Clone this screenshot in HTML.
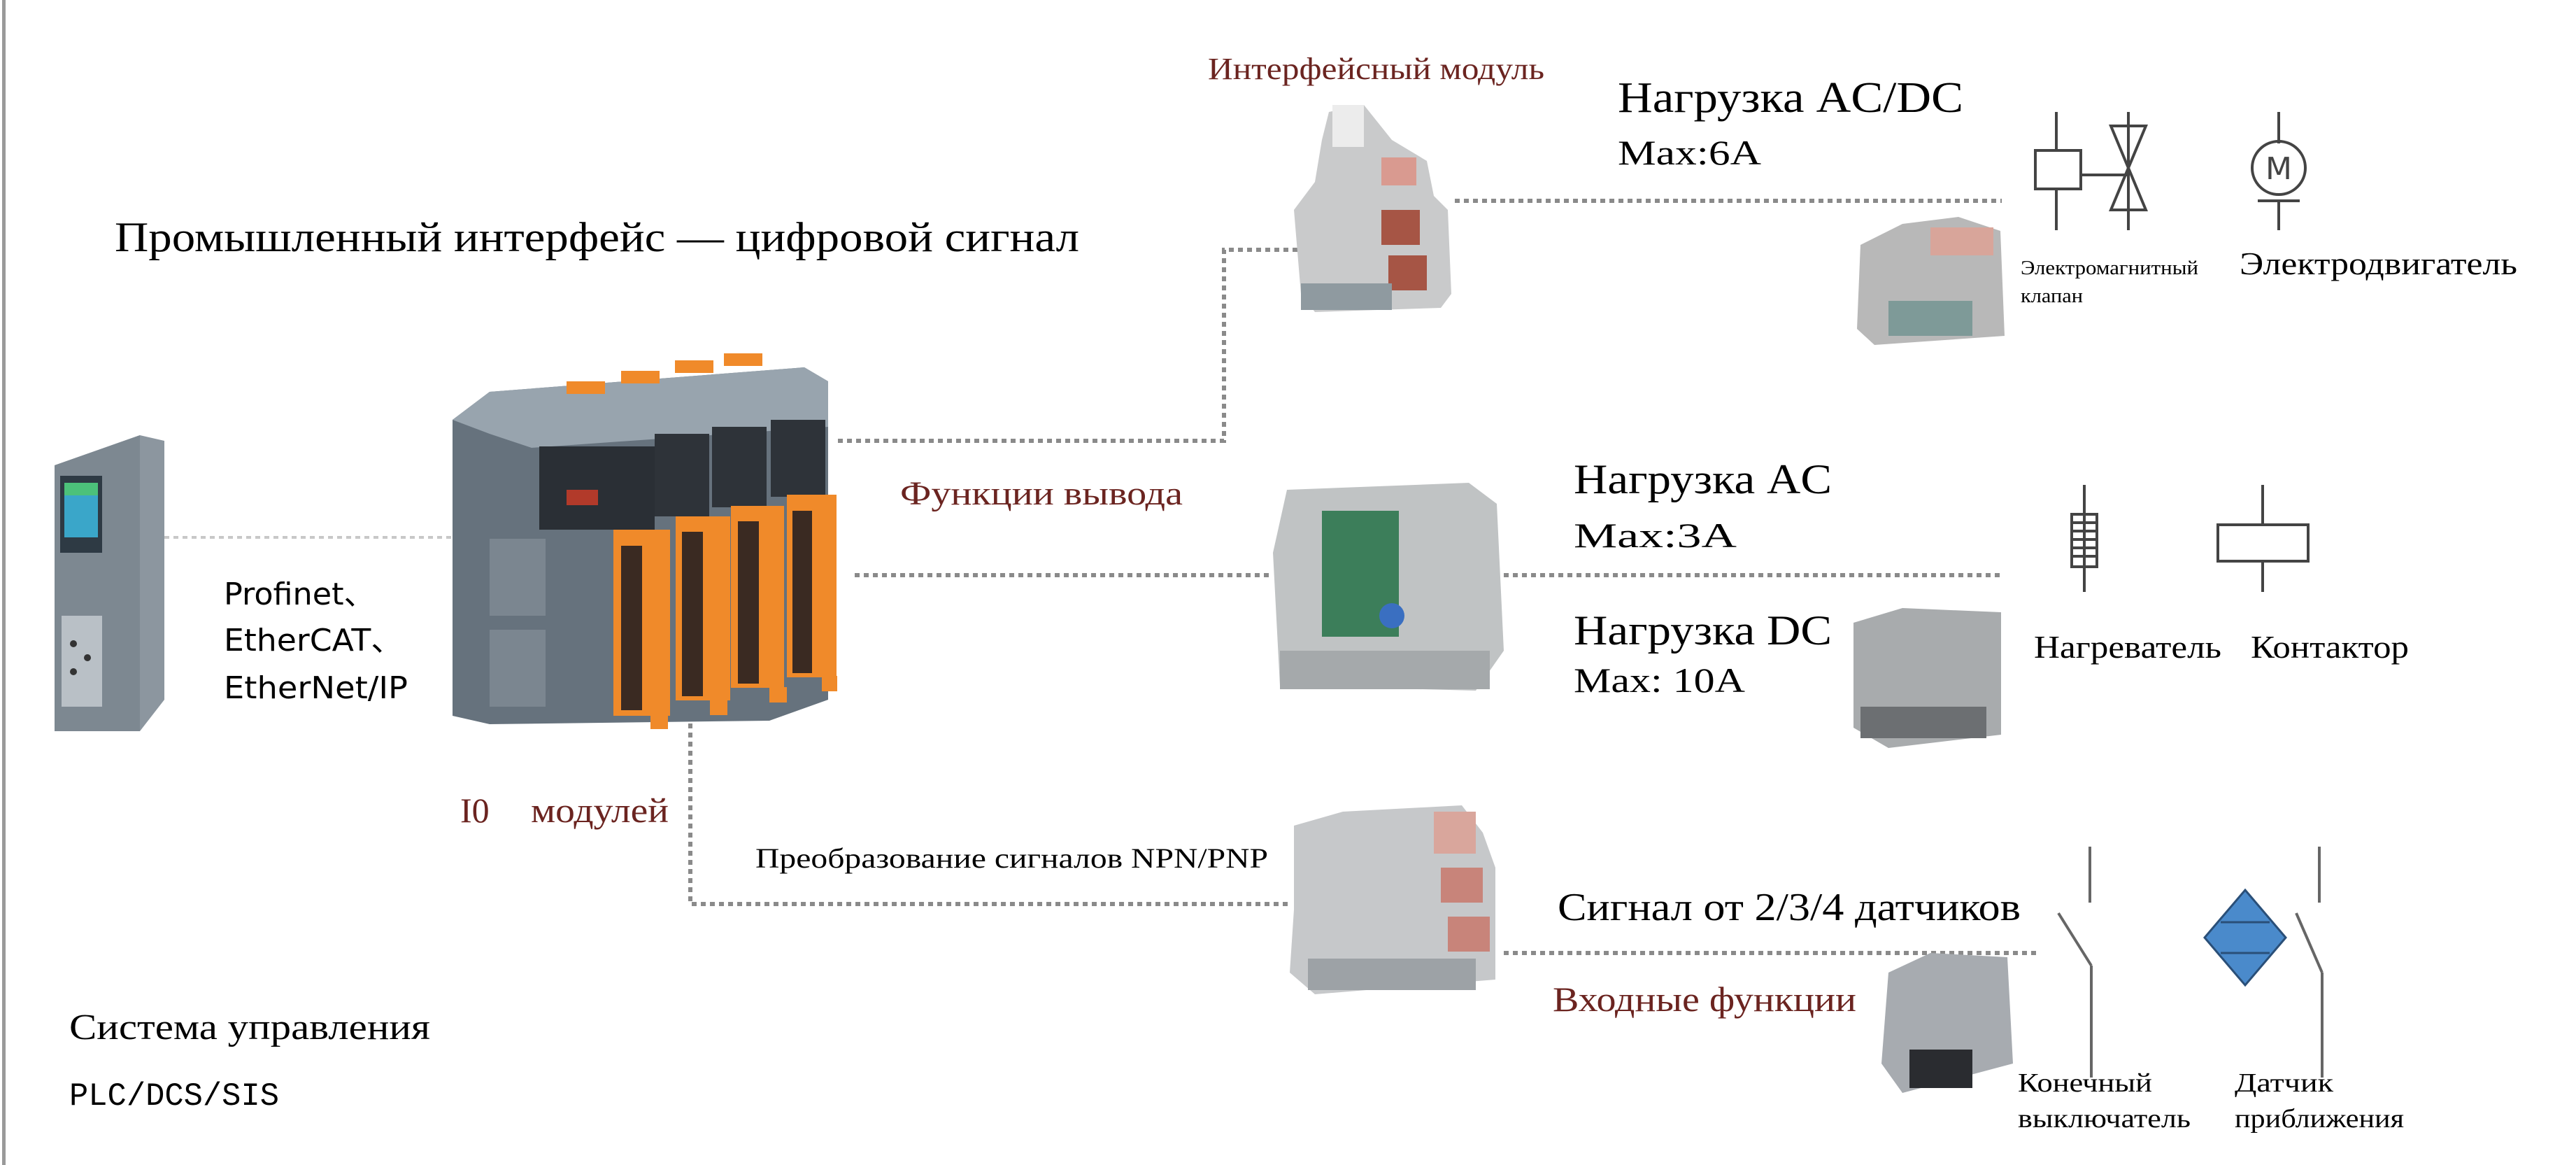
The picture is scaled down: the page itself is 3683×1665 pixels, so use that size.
<!DOCTYPE html>
<html><head><meta charset="utf-8"><style>
html,body{margin:0;padding:0;background:#fff;}
svg{display:block}
</style></head><body>
<svg width="3683" height="1665" viewBox="0 0 3683 1665" xmlns="http://www.w3.org/2000/svg" font-family="'Liberation Serif','Noto Serif CJK SC',serif">
<rect x="0" y="0" width="3683" height="1665" fill="#fff"/>
<rect x="3" y="0" width="5" height="1665" fill="#9a9a9a"/>

<g stroke="#8a8a8a" stroke-width="6" stroke-dasharray="7 6" fill="none">
<path d="M235 768 H646" stroke="#c8c8c8" stroke-width="4"/>
<path d="M1198 630 H1750 V357 H1855"/>
<path d="M1222 822 H1820"/>
<path d="M2150 822 H2865"/>
<path d="M2080 287 H2862"/>
<path d="M987 1034 V1292 H1844"/>
<path d="M2150 1362 H2913"/>
</g>

<g>
<polygon points="78,665 200,622 235,630 235,1000 200,1045 78,1045" fill="#8c969f"/>
<polygon points="78,665 200,622 200,1045 78,1045" fill="#7d8891"/>
<rect x="86" y="680" width="60" height="110" fill="#2e3a44"/>
<rect x="92" y="690" width="48" height="78" fill="#3aa6c9"/>
<rect x="92" y="690" width="48" height="18" fill="#4cc17a"/>
<rect x="88" y="880" width="58" height="130" fill="#b9c0c6"/>
<circle cx="105" cy="920" r="5" fill="#333"/><circle cx="125" cy="940" r="5" fill="#333"/><circle cx="105" cy="960" r="5" fill="#333"/>
</g>

<g>
<polygon points="647,600 700,560 1150,525 1184,545 1184,1000 1100,1030 700,1035 647,1023" fill="#66727d"/>
<polygon points="647,600 700,560 1150,525 1184,545 1184,610 760,640 700,620" fill="#98a4ae"/>
<rect x="771" y="638" width="165" height="119" fill="#2a2f35"/>
<rect x="810" y="700" width="45" height="22" fill="#b23a2a"/>
<rect x="936" y="620" width="78" height="118" fill="#2e3339"/>
<rect x="1018" y="610" width="78" height="115" fill="#2e3339"/>
<rect x="1102" y="600" width="78" height="110" fill="#2e3339"/>
<rect x="700" y="770" width="80" height="110" fill="#7b8690"/>
<rect x="700" y="900" width="80" height="110" fill="#7b8690"/>
<g fill="#f08a2a">
<rect x="877" y="757" width="81" height="266"/>
<rect x="966" y="738" width="78" height="263"/>
<rect x="1045" y="723" width="76" height="260"/>
<rect x="1125" y="707" width="71" height="261"/>
<rect x="930" y="1020" width="25" height="22"/>
<rect x="1015" y="1000" width="25" height="22"/>
<rect x="1100" y="982" width="25" height="22"/>
<rect x="1175" y="966" width="22" height="22"/>
<rect x="810" y="545" width="55" height="18"/>
<rect x="888" y="530" width="55" height="18"/>
<rect x="965" y="515" width="55" height="18"/>
<rect x="1035" y="505" width="55" height="18"/>
</g>
<g fill="#3a2a22">
<rect x="888" y="780" width="30" height="235"/>
<rect x="975" y="760" width="30" height="235"/>
<rect x="1055" y="745" width="30" height="232"/>
<rect x="1133" y="730" width="28" height="232"/>
</g>
</g>

<!-- relay top -->
<g>
<polygon points="1890,200 1900,160 1950,150 1990,200 2040,230 2050,280 2070,300 2075,420 2060,440 1880,446 1860,420 1850,300 1880,260" fill="#c9cacb"/>
<rect x="1905" y="150" width="45" height="60" fill="#ececec"/>
<rect x="1975" y="225" width="50" height="40" fill="#d99a90"/>
<rect x="1975" y="300" width="55" height="50" fill="#a65545"/>
<rect x="1985" y="365" width="55" height="50" fill="#a65545"/>
<rect x="1860" y="405" width="130" height="38" fill="#8f9aa0"/>
</g>
<g>
<polygon points="2660,350 2720,320 2800,310 2860,330 2866,480 2680,493 2655,470" fill="#b8b8b8"/>
<rect x="2760" y="325" width="90" height="40" fill="#d8a59a"/>
<rect x="2700" y="430" width="120" height="50" fill="#7e9a98"/>
</g>

<!-- relay middle -->
<g>
<polygon points="1840,700 2100,690 2140,720 2150,930 2110,987 1830,980 1820,790" fill="#c0c3c4"/>
<rect x="1890" y="730" width="110" height="180" fill="#3c7e5a"/>
<circle cx="1990" cy="880" r="18" fill="#3a6fc1"/>
<rect x="1830" y="930" width="300" height="55" fill="#a5a9ab"/>
</g>
<g>
<polygon points="2650,890 2720,869 2861,875 2861,1050 2700,1069 2650,1040" fill="#a8abad"/>
<rect x="2660" y="1010" width="180" height="45" fill="#6c6f72"/>
</g>

<!-- relay bottom -->
<g>
<polygon points="1850,1180 1920,1160 2090,1151 2120,1190 2138,1240 2138,1400 1880,1421 1844,1390 1850,1300" fill="#c6c8ca"/>
<rect x="2050" y="1160" width="60" height="60" fill="#d9a69c"/>
<rect x="2060" y="1240" width="60" height="50" fill="#c8847a"/>
<rect x="2070" y="1310" width="60" height="50" fill="#c8847a"/>
<rect x="1870" y="1370" width="240" height="45" fill="#9da2a6"/>
</g>
<g>
<polygon points="2700,1390 2760,1362 2870,1368 2878,1520 2720,1562 2690,1520" fill="#a7abb0"/>
<rect x="2730" y="1500" width="90" height="55" fill="#2a2c30"/>
</g>

<g stroke="#444" stroke-width="4" fill="none">
<line x1="2940" y1="160" x2="2940" y2="329"/>
<rect x="2910" y="215" width="65" height="55" fill="#fff"/>
<line x1="2975" y1="250" x2="3043" y2="250"/>
<polygon points="3018,180 3068,180 3018,300 3068,300"/>
<line x1="3043" y1="160" x2="3043" y2="329"/>
<line x1="3258" y1="160" x2="3258" y2="205"/>
<circle cx="3258" cy="240" r="38"/>
<line x1="3228" y1="287" x2="3288" y2="287"/>
<line x1="3258" y1="287" x2="3258" y2="329"/>
<line x1="2980" y1="693" x2="2980" y2="846"/>
<rect x="2962" y="735" width="36" height="75" fill="#fff"/>
<path d="M2962 747 H2998 M2962 759 H2998 M2962 771 H2998 M2962 783 H2998 M2962 795 H2998"/>
<line x1="2980" y1="735" x2="2980" y2="810"/>
<line x1="3235" y1="693" x2="3235" y2="750"/>
<rect x="3171" y="750" width="129" height="52" fill="#fff"/>
<line x1="3235" y1="802" x2="3235" y2="846"/>
<line x1="2988" y1="1210" x2="2988" y2="1290" stroke="#666"/>
<line x1="2943" y1="1305" x2="2990" y2="1380" stroke="#666"/>
<line x1="2990" y1="1380" x2="2990" y2="1540" stroke="#666"/>
<line x1="3316" y1="1210" x2="3316" y2="1290" stroke="#666"/>
<line x1="3283" y1="1305" x2="3320" y2="1390" stroke="#666"/>
<line x1="3320" y1="1390" x2="3320" y2="1540" stroke="#666"/>
</g>
<polygon points="3210,1272 3268,1340 3210,1408 3152,1340" fill="#4a8acb" stroke="#2a4f78" stroke-width="3"/>
<path d="M3175 1318 H3245 M3175 1362 H3245" stroke="#2a4f78" stroke-width="3"/>
<text x="3258" y="256" font-family="'DejaVu Sans',sans-serif" font-size="44" text-anchor="middle" fill="#444">M</text>

<g fill="#000">
<text x="164" y="359" font-size="60" textLength="1379" lengthAdjust="spacingAndGlyphs">Промышленный интерфейс — цифровой сигнал</text>
<text x="2313" y="160" font-size="62" textLength="494" lengthAdjust="spacingAndGlyphs">Нагрузка AC/DC</text>
<text x="2313" y="235" font-size="50" textLength="205" lengthAdjust="spacingAndGlyphs">Max:6A</text>
<text x="2889" y="392" font-size="28" textLength="254" lengthAdjust="spacingAndGlyphs">Электромагнитный</text>
<text x="2889" y="432" font-size="28" textLength="89" lengthAdjust="spacingAndGlyphs">клапан</text>
<text x="3202" y="392" font-size="46" textLength="397" lengthAdjust="spacingAndGlyphs">Электродвигатель</text>
<text x="2250" y="705" font-size="60" textLength="369" lengthAdjust="spacingAndGlyphs">Нагрузка AC</text>
<text x="2250" y="782" font-size="50" textLength="233" lengthAdjust="spacingAndGlyphs">Max:3A</text>
<text x="2250" y="921" font-size="60" textLength="369" lengthAdjust="spacingAndGlyphs">Нагрузка DC</text>
<text x="2250" y="989" font-size="50" textLength="245" lengthAdjust="spacingAndGlyphs">Max: 10A</text>
<text x="2908" y="940" font-size="46" textLength="268" lengthAdjust="spacingAndGlyphs">Нагреватель</text>
<text x="3218" y="940" font-size="46" textLength="226" lengthAdjust="spacingAndGlyphs">Контактор</text>
<text x="1080" y="1240" font-size="40" textLength="733" lengthAdjust="spacingAndGlyphs">Преобразование сигналов NPN/PNP</text>
<text x="2227" y="1315" font-size="56" textLength="662" lengthAdjust="spacingAndGlyphs">Сигнал от 2/3/4 датчиков</text>
<text x="2885" y="1560" font-size="38" textLength="192" lengthAdjust="spacingAndGlyphs">Конечный</text>
<text x="2885" y="1611" font-size="38" textLength="247" lengthAdjust="spacingAndGlyphs">выключатель</text>
<text x="3195" y="1560" font-size="38" textLength="141" lengthAdjust="spacingAndGlyphs">Датчик</text>
<text x="3195" y="1611" font-size="38" textLength="242" lengthAdjust="spacingAndGlyphs">приближения</text>
<text x="99" y="1485" font-size="52" textLength="516" lengthAdjust="spacingAndGlyphs">Система управления</text>
<text x="99" y="1579" font-size="46" font-family="'Liberation Mono',monospace" textLength="300" lengthAdjust="spacingAndGlyphs">PLC/DCS/SIS</text>
<g font-family="'DejaVu Sans','Noto Sans CJK SC',sans-serif" font-size="44">
<text x="320" y="864" textLength="216" lengthAdjust="spacingAndGlyphs">Profinet、</text>
<text x="320" y="930" textLength="256" lengthAdjust="spacingAndGlyphs">EtherCAT、</text>
<text x="320" y="998" textLength="263" lengthAdjust="spacingAndGlyphs">EtherNet/IP</text>
</g>
</g>
<g fill="#6b2420">
<text x="1727" y="113" font-size="44" textLength="481" lengthAdjust="spacingAndGlyphs">Интерфейсный модуль</text>
<text x="1287" y="721" font-size="48" textLength="404" lengthAdjust="spacingAndGlyphs">Функции вывода</text>
<text x="658" y="1175" font-size="50">I0</text>
<text x="759" y="1175" font-size="50" textLength="197" lengthAdjust="spacingAndGlyphs">модулей</text>
<text x="2220" y="1445" font-size="50" textLength="434" lengthAdjust="spacingAndGlyphs">Входные функции</text>
</g>
</svg>
</body></html>
